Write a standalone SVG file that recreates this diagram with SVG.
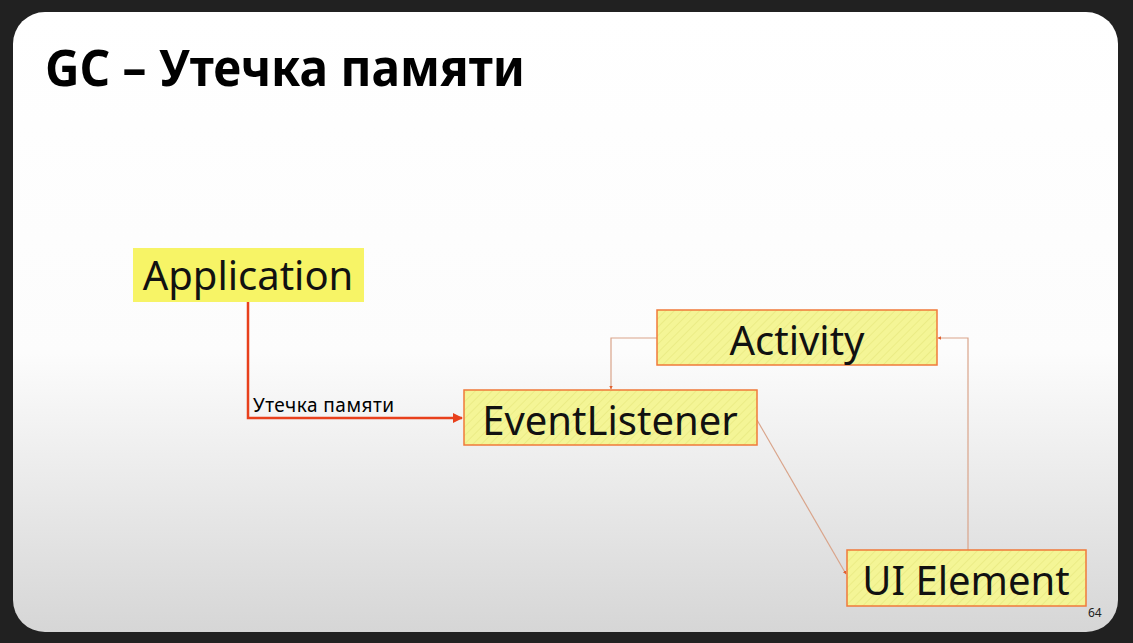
<svg xmlns="http://www.w3.org/2000/svg" width="1133" height="643" viewBox="0 0 1133 643">
<style>
.node-text{font-family:"Noto Sans","Open Sans","DejaVu Sans",sans-serif;font-size:40px;fill:#111;text-anchor:middle}
.box{fill:url(#hatch);stroke:#f07a3a;stroke-width:1.5}
.thin{fill:none;stroke:#d9a48a;stroke-width:1.2}
</style>
<defs>
<linearGradient id="bg" x1="0" y1="0" x2="0" y2="1">
<stop offset="0" stop-color="#ffffff"/>
<stop offset="0.55" stop-color="#fcfcfc"/>
<stop offset="1" stop-color="#d6d6d6"/>
</linearGradient>
<pattern id="hatch" width="6" height="6" patternUnits="userSpaceOnUse" patternTransform="rotate(45)">
<rect width="6" height="6" fill="#f4f596"/>
<line x1="0" y1="0" x2="0" y2="6" stroke="#e6e67c" stroke-width="1.2"/>
</pattern>
<marker id="arrRed" viewBox="0 0 10 10" refX="9" refY="5" markerWidth="4" markerHeight="4" orient="auto">
<path d="M0,0 L10,5 L0,10 z" fill="#e8401c"/>
</marker>
<marker id="arrThin" viewBox="0 0 10 10" refX="9" refY="5" markerWidth="3" markerHeight="3" orient="auto">
<path d="M0,0 L10,5 L0,10 z" fill="#e06030"/>
</marker>
</defs>
<rect width="1133" height="643" fill="#212121"/>
<rect x="13" y="12" width="1105" height="620" rx="32" fill="url(#bg)"/>
<text x="45" y="86" font-family="'Noto Sans','Open Sans',sans-serif" font-weight="bold" font-size="50" textLength="480" lengthAdjust="spacingAndGlyphs" fill="#000">GC – Утечка памяти</text>

<g id="connectors">
<path d="M248,302 V418 H462" fill="none" stroke="#e8401c" stroke-width="2.5" marker-end="url(#arrRed)"/>
<text x="253" y="412" font-family="'Noto Sans','Open Sans',sans-serif" font-size="19" textLength="141" fill="#000">Утечка памяти</text>
<path class="thin" d="M657,338 H611 V389" marker-end="url(#arrThin)" stroke="#b9a8a0"/>
<path class="thin" d="M757,420 L846,574" marker-end="url(#arrThin)"/>
<path class="thin" d="M968,550 V338 H938" marker-end="url(#arrThin)"/>
</g>

<g id="application">
<rect x="133" y="248" width="231" height="54" fill="#f7f466"/>
<text class="node-text" x="248" y="290">Application</text>
</g>
<g id="activity">
<rect class="box" x="657" y="310" width="280" height="55"/>
<text class="node-text" x="797" y="355">Activity</text>
</g>
<g id="eventlistener">
<rect class="box" x="464" y="390" width="293" height="55"/>
<text class="node-text" x="610" y="435">EventListener</text>
</g>
<g id="uielement">
<rect class="box" x="847" y="550" width="239" height="56"/>
<text class="node-text" x="966" y="595">UI Element</text>
</g>
<text x="1088" y="617" font-family="'Noto Sans',sans-serif" font-size="12" fill="#222">64</text>
</svg>
